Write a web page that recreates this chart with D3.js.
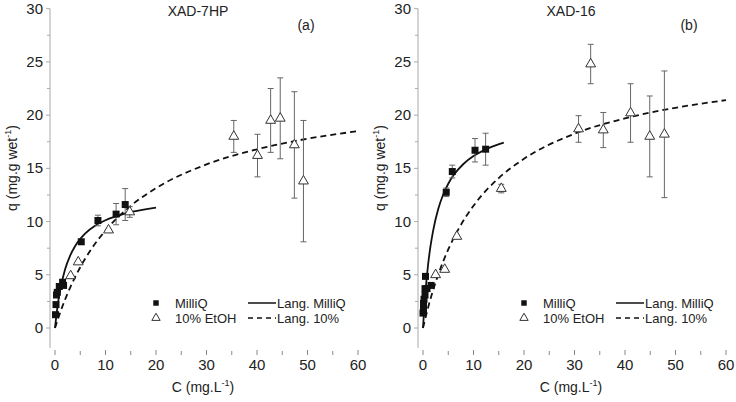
<!DOCTYPE html>
<html>
<head>
<meta charset="utf-8">
<script src="https://cdn.jsdelivr.net/npm/d3@7"></script>
<style>
  body { margin: 0; background: #fff; }
  svg { font-family: "Liberation Sans", Arial, sans-serif; }
</style>
</head>
<body>
<div id="chart"></div>
<script>
// ---- data ----
// XAD-7HP (a)
const aMilliQ = [
  {c: 0.1, q: 1.25}, {c: 0.2, q: 2.2}, {c: 0.3, q: 3.1}, {c: 0.45, q: 3.35},
  {c: 0.85, q: 3.9}, {c: 1.5, q: 4.3}, {c: 1.7, q: 4.0}, {c: 5.2, q: 8.1},
  {c: 8.5, q: 10.1, e: 0.5}, {c: 12.1, q: 10.7, e: 1.0}, {c: 13.9, q: 11.6, e: 1.5}
];
const aEtOH = [
  {c: 3.1, q: 4.9}, {c: 4.6, q: 6.2}, {c: 10.6, q: 9.2}, {c: 14.8, q: 10.9, e: 0.5},
  {c: 35.4, q: 18.0, e: 1.5}, {c: 40.1, q: 16.2, e: 2.0}, {c: 42.7, q: 19.5, e: 3.0},
  {c: 44.6, q: 19.7, e: 3.8}, {c: 47.4, q: 17.2, e: 5.0}, {c: 49.2, q: 13.8, e: 5.7}
];
const aLangMilliQ = [
  [0, 0], [0.5, 2.04], [1, 3.52], [2, 5.52], [3, 6.81], [4, 7.71], [6, 8.88],
  [8, 9.62], [10, 10.12], [14, 10.76], [20, 11.3]
];
const aLang10 = [
  [0, 0], [1, 1.42], [2, 2.68], [3, 3.8], [5, 5.71], [7, 7.28], [10, 9.16],
  [15, 11.48], [20, 13.14], [30, 15.37], [40, 16.79], [50, 17.78], [60, 18.5]
];

// XAD-16 (b)
const bMilliQ = [
  {c: 0.0, q: 1.4}, {c: 0.1, q: 1.7}, {c: 0.1, q: 2.3}, {c: 0.2, q: 2.7},
  {c: 0.4, q: 3.1}, {c: 0.4, q: 3.7}, {c: 0.5, q: 4.85}, {c: 0.8, q: 3.7},
  {c: 1.6, q: 4.0}, {c: 4.6, q: 12.75, e: 0.4}, {c: 5.8, q: 14.7, e: 0.6},
  {c: 10.3, q: 16.7, e: 1.1}, {c: 12.4, q: 16.8, e: 1.5}
];
const bEtOH = [
  {c: 2.5, q: 5.0}, {c: 4.3, q: 5.5}, {c: 6.7, q: 8.6}, {c: 15.5, q: 13.1, e: 0.4},
  {c: 30.8, q: 18.7, e: 1.25}, {c: 33.2, q: 24.8, e: 1.85}, {c: 35.7, q: 18.6, e: 1.65},
  {c: 41.1, q: 20.2, e: 2.75}, {c: 44.9, q: 18.0, e: 3.8}, {c: 47.8, q: 18.2, e: 5.95}
];
const bLangMilliQ = [
  [0, 0], [0.25, 1.9], [0.5, 3.47], [1, 5.92], [1.5, 7.73], [2, 9.13], [3, 11.15],
  [4, 12.54], [5, 13.55], [6, 14.32], [8, 15.41], [10, 16.15], [13, 16.9], [16, 17.41]
];
const bLang10 = [
  [0, 0], [1, 1.91], [2, 3.56], [3, 4.99], [5, 7.38], [7, 9.27], [10, 11.48],
  [15, 14.09], [20, 15.9], [30, 18.25], [40, 19.7], [50, 20.69], [60, 21.41]
];

const xTicks = [0, 10, 20, 30, 40, 50, 60];
const yTicks = [0, 5, 10, 15, 20, 25, 30];
const legendLabels = ["MilliQ", "10% EtOH", "Lang. MilliQ", "Lang. 10%"];

// ---- drawing ----
const W = 736, H = 402;
const svg = d3.select("#chart").append("svg")
  .attr("width", W).attr("height", H);

function drawPanel(p) {
  const g = svg.append("g").attr("transform", `translate(${p.dx},0)`);

  const x = d3.scaleLinear().domain([0, 60]).range([55, 358]);
  const y = d3.scaleLinear().domain([0, 30]).range([328, 8.7]);

  // y axis: light grey line with outward ticks
  const axX = 50;
  g.append("line")
    .attr("x1", axX).attr("x2", axX)
    .attr("y1", y(30)).attr("y2", 348)
    .attr("stroke", "#aaa").attr("stroke-width", 1);
  g.selectAll(".ytk").data(d3.range(0, 30.1, 2.5)).join("line")
    .attr("x1", d => d % 5 === 0 ? axX - 4 : axX - 3).attr("x2", axX)
    .attr("y1", d => y(d)).attr("y2", d => y(d))
    .attr("stroke", "#aaa");
  g.selectAll(".ylab").data(yTicks).join("text")
    .attr("x", axX - 7).attr("y", d => y(d) + 5)
    .attr("text-anchor", "end")
    .attr("font-size", 15).attr("fill", "#222")
    .text(d => d);

  // x axis: tick marks only
  g.selectAll(".xtk").data(d3.range(0, 60.1, 5)).join("line")
    .attr("x1", d => x(d)).attr("x2", d => x(d))
    .attr("y1", d => d % 10 === 0 ? 350 : 351).attr("y2", 355)
    .attr("stroke", "#888");
  g.selectAll(".xlab").data(xTicks).join("text")
    .attr("x", d => x(d)).attr("y", 370)
    .attr("text-anchor", "middle")
    .attr("font-size", 15).attr("fill", "#222")
    .text(d => d);

  // axis titles
  const xt = g.append("text")
    .attr("x", 203).attr("y", 392)
    .attr("text-anchor", "middle").attr("font-size", 14).attr("fill", "#222");
  xt.append("tspan").text("C (mg.L");
  xt.append("tspan").attr("dy", -6).attr("font-size", 9).text("-1");
  xt.append("tspan").attr("dy", 6).text(")");

  const yt = g.append("text")
    .attr("transform", `translate(${p.ylabX},168) rotate(-90)`)
    .attr("text-anchor", "middle").attr("font-size", 14).attr("fill", "#222");
  yt.append("tspan").text("q (mg.g wet");
  yt.append("tspan").attr("dy", -6).attr("font-size", 9).text("-1");
  yt.append("tspan").attr("dy", 6).text(")");

  // titles
  g.append("text").attr("x", p.titleX).attr("y", 16)
    .attr("text-anchor", "middle").attr("font-size", 14).attr("fill", "#222")
    .text(p.title);
  g.append("text").attr("x", p.tagX).attr("y", 30)
    .attr("text-anchor", "middle").attr("font-size", 14).attr("fill", "#222")
    .text(p.tag);

  // fitted curves
  const line = d3.line().x(d => x(d[0])).y(d => y(d[1])).curve(d3.curveMonotoneX);
  g.append("path").datum(p.lang10).attr("d", line)
    .attr("fill", "none").attr("stroke", "#111").attr("stroke-width", 1.8)
    .attr("stroke-dasharray", "6,4");
  g.append("path").datum(p.langMilliQ).attr("d", line)
    .attr("fill", "none").attr("stroke", "#111").attr("stroke-width", 1.8);

  // error bars
  const withErr = p.milliQ.concat(p.etoh).filter(d => d.e);
  const eb = g.selectAll(".eb").data(withErr).join("g").attr("stroke", "#666").attr("stroke-width", 1);
  eb.append("line")
    .attr("x1", d => x(d.c)).attr("x2", d => x(d.c))
    .attr("y1", d => y(d.q - d.e)).attr("y2", d => y(d.q + d.e));
  eb.append("line")
    .attr("x1", d => x(d.c) - 3).attr("x2", d => x(d.c) + 3)
    .attr("y1", d => y(d.q - d.e)).attr("y2", d => y(d.q - d.e));
  eb.append("line")
    .attr("x1", d => x(d.c) - 3).attr("x2", d => x(d.c) + 3)
    .attr("y1", d => y(d.q + d.e)).attr("y2", d => y(d.q + d.e));

  // markers
  const sq = d3.symbol().type(d3.symbolSquare).size(49);
  const tri = d3.symbol().type(d3.symbolTriangle).size(42);
  g.selectAll(".tri").data(p.etoh).join("path")
    .attr("d", tri)
    .attr("transform", d => `translate(${x(d.c)},${y(d.q)})`)
    .attr("fill", "#fff").attr("stroke", "#333").attr("stroke-width", 1);
  g.selectAll(".sq").data(p.milliQ).join("path")
    .attr("d", sq)
    .attr("transform", d => `translate(${x(d.c)},${y(d.q)})`)
    .attr("fill", "#111");

  // legend
  const lg = g.append("g").attr("transform", "translate(156,303)");
  lg.append("path").attr("d", d3.symbol().type(d3.symbolSquare).size(30))
    .attr("fill", "#111");
  lg.append("path").attr("d", d3.symbol().type(d3.symbolTriangle).size(30))
    .attr("transform", "translate(0,15)")
    .attr("fill", "#fff").attr("stroke", "#333");
  lg.append("line").attr("x1", 92).attr("x2", 120).attr("y1", 0).attr("y2", 0)
    .attr("stroke", "#111").attr("stroke-width", 1.5);
  lg.append("line").attr("x1", 92).attr("x2", 120).attr("y1", 15).attr("y2", 15)
    .attr("stroke", "#111").attr("stroke-width", 1.5).attr("stroke-dasharray", "5,4");
  const lx = [19, 19, 121, 121], ly = [5, 20, 5, 20];
  lg.selectAll(".lt").data(legendLabels).join("text")
    .attr("x", (d, i) => lx[i]).attr("y", (d, i) => ly[i])
    .attr("font-size", 13).attr("fill", "#222")
    .text(d => d);
}

drawPanel({dx: 0, title: "XAD-7HP", tag: "(a)", titleX: 198, tagX: 306, ylabX: 17,
  milliQ: aMilliQ, etoh: aEtOH, langMilliQ: aLangMilliQ, lang10: aLang10});
drawPanel({dx: 368, title: "XAD-16", tag: "(b)", titleX: 203, tagX: 321, ylabX: 17,
  milliQ: bMilliQ, etoh: bEtOH, langMilliQ: bLangMilliQ, lang10: bLang10});
</script>
</body>
</html>
